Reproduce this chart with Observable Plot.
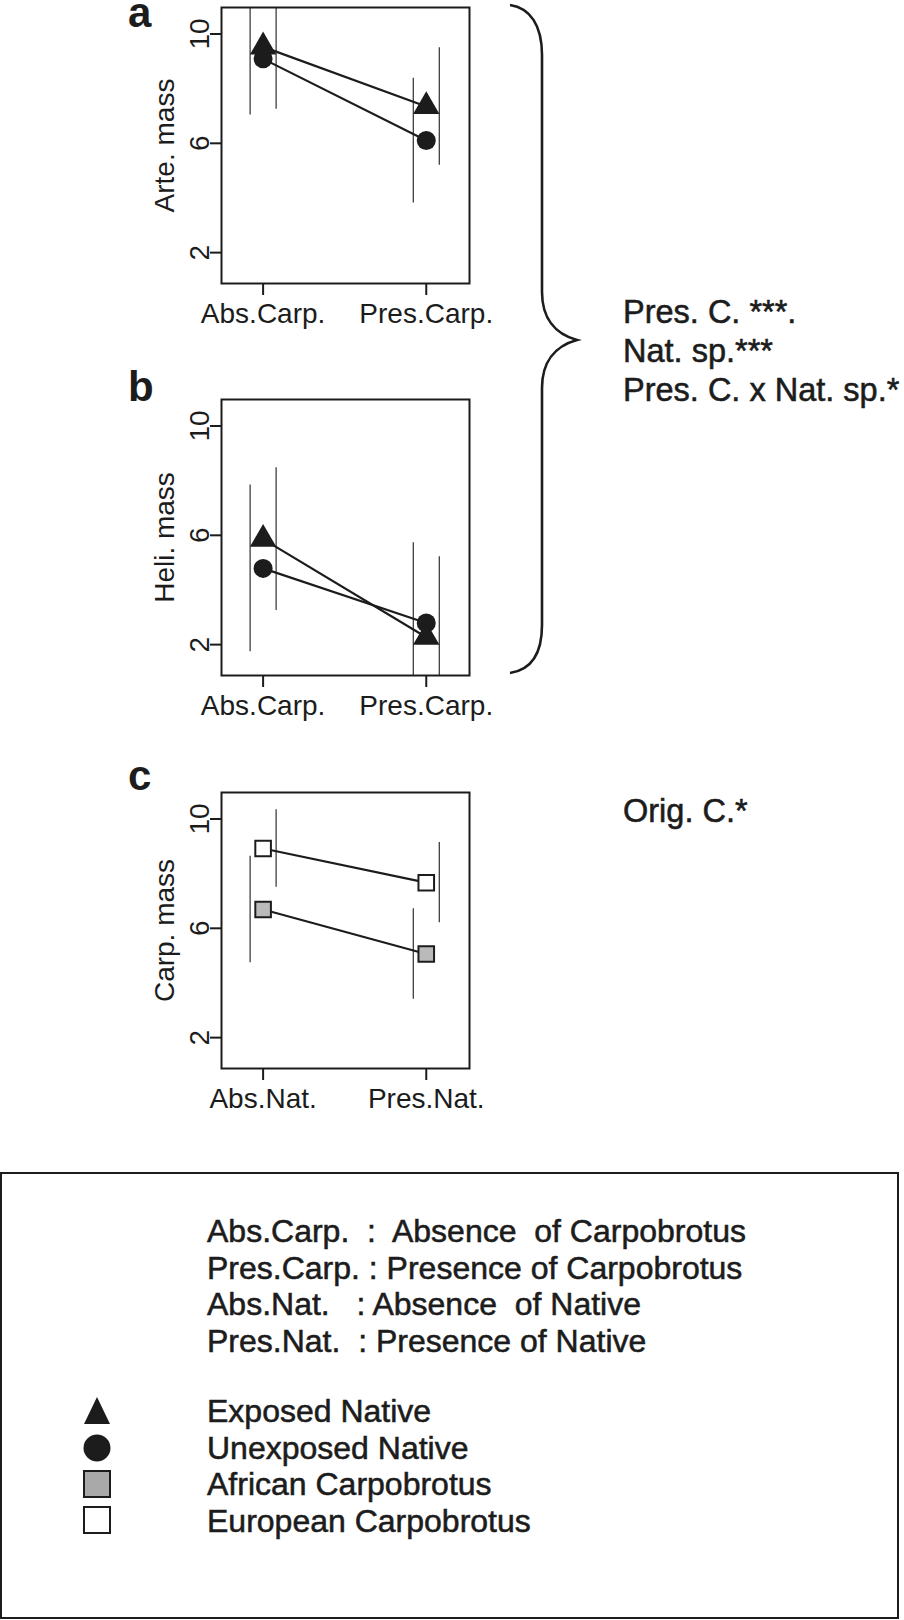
<!DOCTYPE html>
<html><head><meta charset="utf-8">
<script src="https://cdn.jsdelivr.net/npm/d3@7"></script>
<script src="https://cdn.jsdelivr.net/npm/@observablehq/plot@0.6"></script>
<style>
body{margin:0;background:#fff;}
#root{position:relative;width:904px;height:1620px;overflow:hidden;font-family:"Liberation Sans",Arial,sans-serif;color:#1c1c1c;}
#root > svg{position:absolute;}
</style></head><body><div id="root"></div>
<script>
// ---------- data ----------
const groupsCarp = ["Abs.Carp.", "Pres.Carp."];
const groupsNat = ["Abs.Nat.", "Pres.Nat."];
const yTicks = [2, 6, 10];

const arteExposedMean = [9.53, 7.35];
const arteExposedErr = [2.28, 2.15];
const arteUnexposedMean = [9.09, 6.10];
const arteUnexposedErr = [2.05, 2.28];

const heliExposedMean = [5.86, 2.27];
const heliExposedErr = [2.61, 2.95];
const heliUnexposedMean = [4.79, 2.79];
const heliUnexposedErr = [3.05, 2.94];

const carpAfricanMean = [6.69, 5.06];
const carpAfricanErr = [1.95, 1.66];
const carpEuropeanMean = [8.92, 7.67];
const carpEuropeanErr = [1.42, 1.47];

const statsAB = ["Pres. C. ***.", "Nat. sp.***", "Pres. C. x Nat. sp.*"];
const statsC = ["Orig. C.*"];
const legendAbbrev = [
  "Abs.Carp.  :  Absence  of Carpobrotus",
  "Pres.Carp. : Presence of Carpobrotus",
  "Abs.Nat.   : Absence  of Native",
  "Pres.Nat.  : Presence of Native"
];
const legendKeys = ["Exposed Native", "Unexposed Native", "African Carpobrotus", "European Carpobrotus"];

// ---------- style ----------
const INK = "#1c1c1c";
const FONT = '"Liberation Sans", Arial, sans-serif';
const GREY_PANEL = "#bababa";
const GREY_LEGEND = "#a9a9a9";

const root = document.getElementById("root");

function panel({top, ylabel, groups, series}) {
  const marks = [Plot.frame({stroke: INK, strokeWidth: 2})];
  series.forEach(s => {
    s.rows = groups.map((g, i) => ({x: i + 1, y: s.mean[i], lo: s.mean[i] - s.err[i], hi: s.mean[i] + s.err[i]}));
  });
  series.forEach(s => marks.push(Plot.ruleX(s.rows, {x: "x", y1: "lo", y2: "hi", dx: s.dx, stroke: INK, strokeWidth: 1.1})));
  series.forEach(s => marks.push(Plot.line(s.rows, {x: "x", y: "y", stroke: INK, strokeWidth: 2.2})));
  series.forEach(s => marks.push(Plot.dot(s.rows, {
    x: "x", y: "y", symbol: s.symbol, r: s.r, fill: s.fill,
    stroke: s.stroke || "none", strokeWidth: s.strokeWidth || 0
  })));
  marks.push(Plot.axisX({ticks: [1, 2], tickFormat: d => groups[d - 1], tickSize: 12, tickPadding: 8, strokeWidth: 2, label: null}));
  marks.push(Plot.axisY({ticks: yTicks, tickSize: 11, tickRotate: -90, tickPadding: 2, strokeWidth: 2, label: null}));
  marks.push(Plot.text([ylabel], {frameAnchor: "left", rotate: -90, dx: -48, lineAnchor: "bottom", textAnchor: "middle", fontSize: 28, fill: INK}));
  const svg = Plot.plot({
    width: 480, height: 340,
    marginLeft: 221, marginRight: 11, marginTop: 7, marginBottom: 57,
    x: {type: "linear", domain: [0.745, 2.265]},
    y: {type: "linear", domain: [0.87, 10.97], clamp: true},
    style: {fontSize: "28px", fontFamily: FONT, color: INK, background: "transparent", overflow: "visible"},
    marks
  });
  svg.style.left = "0px";
  svg.style.top = top + "px";
  root.appendChild(svg);
}

panel({top: 0, ylabel: "Arte. mass", groups: groupsCarp, series: [
  {mean: arteUnexposedMean, err: arteUnexposedErr, dx: -13, symbol: "circle", r: 9.5, fill: INK},
  {mean: arteExposedMean, err: arteExposedErr, dx: 13, symbol: "triangle", r: 9.8, fill: INK}
]});
panel({top: 392, ylabel: "Heli. mass", groups: groupsCarp, series: [
  {mean: heliUnexposedMean, err: heliUnexposedErr, dx: -13, symbol: "circle", r: 9.5, fill: INK},
  {mean: heliExposedMean, err: heliExposedErr, dx: 13, symbol: "triangle", r: 9.8, fill: INK}
]});
panel({top: 785, ylabel: "Carp. mass", groups: groupsNat, series: [
  {mean: carpAfricanMean, err: carpAfricanErr, dx: -13, symbol: "square", r: 8.8, fill: GREY_PANEL, stroke: INK, strokeWidth: 2},
  {mean: carpEuropeanMean, err: carpEuropeanErr, dx: 13, symbol: "square", r: 8.8, fill: "#fff", stroke: INK, strokeWidth: 2}
]});

// ---------- overlay: letters, brace, statistics, legend ----------
const ov = d3.create("svg").attr("width", 904).attr("height", 1620)
  .style("left", "0px").style("top", "0px")
  .attr("font-family", FONT).attr("fill", INK);

[["a", 27], ["b", 401], ["c", 790]].forEach(([t, y]) =>
  ov.append("text").attr("x", 128).attr("y", y).attr("font-size", 42).attr("font-weight", "bold").text(t));

ov.append("path")
  .attr("d", "M510,5 C530,8 542,25 542,55 L542,292 C542,318 555,334 577,340 C555,346 542,362 542,388 L542,625 C542,655 530,670 510,673")
  .attr("fill", "none").attr("stroke", INK).attr("stroke-width", 2.6);

function heavyText(x, y, size, t) {
  return ov.append("text").attr("x", x).attr("y", y).attr("font-size", size)
    .attr("stroke", INK).attr("stroke-width", 0.55).attr("paint-order", "stroke")
    .attr("xml:space", "preserve").style("white-space", "pre").text(t);
}

statsAB.forEach((t, i) => heavyText(623, 323 + i * 39, 32.5, t));
statsC.forEach((t, i) => heavyText(623, 822 + i * 39, 32.5, t));

ov.append("rect").attr("x", 1).attr("y", 1173).attr("width", 897).attr("height", 445)
  .attr("fill", "none").attr("stroke", INK).attr("stroke-width", 2);

legendAbbrev.forEach((t, i) => heavyText(207, 1242 + i * 36.5, 32, t));
legendKeys.forEach((t, i) => heavyText(207, 1422 + i * 36.7, 32, t));

// legend symbols
ov.append("path").attr("d", "M97,1397 L110,1424 L84,1424 Z").attr("fill", INK);
ov.append("circle").attr("cx", 97).attr("cy", 1448).attr("r", 13.5).attr("fill", INK);
ov.append("rect").attr("x", 84).attr("y", 1471).attr("width", 26).attr("height", 26)
  .attr("fill", GREY_LEGEND).attr("stroke", INK).attr("stroke-width", 2);
ov.append("rect").attr("x", 84).attr("y", 1507).attr("width", 26).attr("height", 26)
  .attr("fill", "#fff").attr("stroke", INK).attr("stroke-width", 2);

root.appendChild(ov.node());
</script>
</body></html>
